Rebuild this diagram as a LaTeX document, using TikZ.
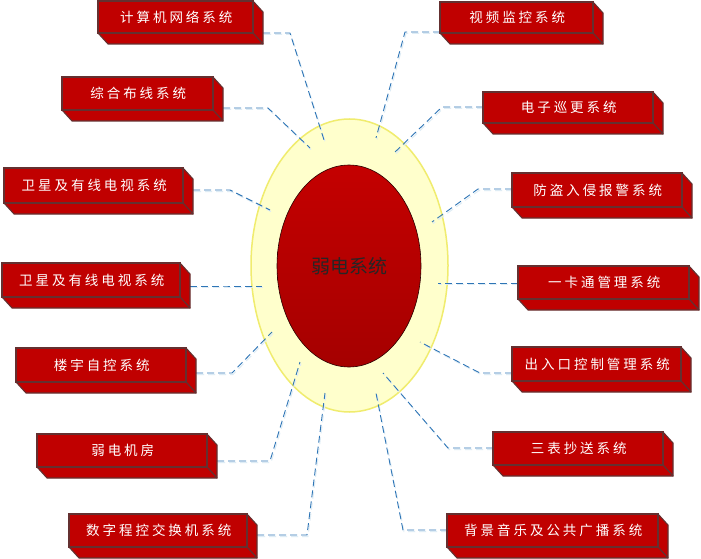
\documentclass[tikz,border=0pt]{standalone}
\usepackage{fontspec}
\usetikzlibrary{shapes.geometric}
\newfontfamily\cjk{Noto Sans CJK SC}
\newfontfamily\cjkbox[LetterSpace=22]{Noto Sans CJK SC}
\definecolor{boxred}{RGB}{192,0,0}
\definecolor{boxside}{RGB}{192,0,0}
\definecolor{boxedge}{RGB}{100,48,48}
\definecolor{ringfill}{RGB}{255,255,204}
\definecolor{ringedge}{RGB}{240,236,110}
\definecolor{coretop}{RGB}{196,0,0}
\definecolor{corebot}{RGB}{165,0,0}
\definecolor{connblue}{RGB}{46,117,182}
\definecolor{connshadow}{RGB}{222,236,245}
\tikzset{
  sysbox/.style={draw=boxedge, line width=1.1pt, fill=boxred, text=white,
    inner sep=0pt, outer sep=0pt, font=\cjkbox\fontsize{13.5}{15}\selectfont},
  sysside/.style={draw=boxedge, line width=1.1pt, fill=boxside, line join=round},
  conn/.style={draw=connblue, line width=0.9pt, dash pattern=on 7pt off 4pt},
  connsh/.style={draw=connshadow, line width=1pt, dash pattern=on 7pt off 4pt},
}
% name, x1, y1, x2, y2, text
\newcommand\sysblock[6]{%
  \filldraw[sysside] (#4,#3) -- (#4+10,#3+11) -- (#4+10,#5+11) -- (#4,#5) -- cycle;
  \filldraw[sysside] (#2,#5) -- (#4,#5) -- (#4+10,#5+11) -- (#2+10,#5+11) -- cycle;
  \node[sysbox, minimum width={(#4-#2)*1pt}, minimum height={(#5-#3)*1pt}]
    (#1) at ({(#2+#4)/2},{(#3+#5)/2}) {\hspace*{1.5pt}#6};
}
% index, start x, y, elbow x, end x, end y
\newcommand\link[6]{%
  \coordinate (s#1) at (#2,#3);
  \coordinate (k#1) at (#4,#3);
  \coordinate (t#1) at (#5,#6);
  \draw[connsh] ([shift={(1,1.5)}]s#1) -- ([shift={(1,1.5)}]k#1) -- ([shift={(1,1.5)}]t#1);
  \draw[conn] (s#1) -- (k#1) -- (t#1);
}
\begin{document}
\begin{tikzpicture}[x=1pt,y=-1pt]
\useasboundingbox (0,0) rectangle (701,559);
\fill[white] (0,0) rectangle (701,559);

% central ellipses
\node[ellipse, draw=ringedge, line width=1.5pt, fill=ringfill,
  minimum width=197pt, minimum height=293pt, inner sep=0pt] (ring) at (349.5,265.5) {};
\node[ellipse, draw=black!60!red!40!black, line width=0.6pt, top color=coretop, bottom color=corebot,
  minimum width=144pt, minimum height=202pt, inner sep=0pt,
  font=\cjk\fontsize{19}{22}\selectfont, text=black!85] (core) at (349,266) {弱电系统};

% connectors
\link{1}{263}{33}{290}{325}{143}
\link{2}{440}{32}{405}{376}{138}
\link{3}{223}{108}{268}{310}{148}
\link{4}{483}{107}{442}{394}{153}
\link{5}{512}{189}{478}{432}{222}
\link{6}{193}{190}{230}{270}{210}
\link{7}{190}{286}{226}{262}{286}
\link{8}{518}{283}{478}{438}{283}
\link{9}{512}{373}{480}{420}{342}
\link{10}{196}{373}{232}{272}{332}
\link{11}{217}{461}{270}{300}{362}
\link{12}{257}{535}{307}{325}{393}
\link{13}{493}{448}{448}{383}{373}
\link{14}{447}{530}{403}{376}{393}

% boxes
\sysblock{b1}{98}{1}{253}{33}{计算机网络系统}
\sysblock{b2}{440}{2}{593}{33}{视频监控系统}
\sysblock{b3}{62}{77}{213}{110}{综合布线系统}
\sysblock{b4}{483}{92}{653}{123}{电子巡更系统}
\sysblock{b5}{512}{173}{682}{207}{防盗入侵报警系统}
\sysblock{b6}{4}{168}{183}{203}{卫星及有线电视系统}
\sysblock{b7}{2}{263}{180}{297}{卫星及有线电视系统}
\sysblock{b8}{518}{266}{689}{299}{一卡通管理系统}
\sysblock{b9}{512}{347}{681}{381}{出入口控制管理系统}
\sysblock{b10}{16}{348}{186}{382}{楼宇自控系统}
\sysblock{b11}{37}{434}{207}{467}{弱电机房}
\sysblock{b12}{69}{514}{247}{547}{数字程控交换机系统}
\sysblock{b13}{493}{432}{663}{465}{三表抄送系统}
\sysblock{b14}{447}{514}{658}{547}{背景音乐及公共广播系统}
\end{tikzpicture}
\end{document}
